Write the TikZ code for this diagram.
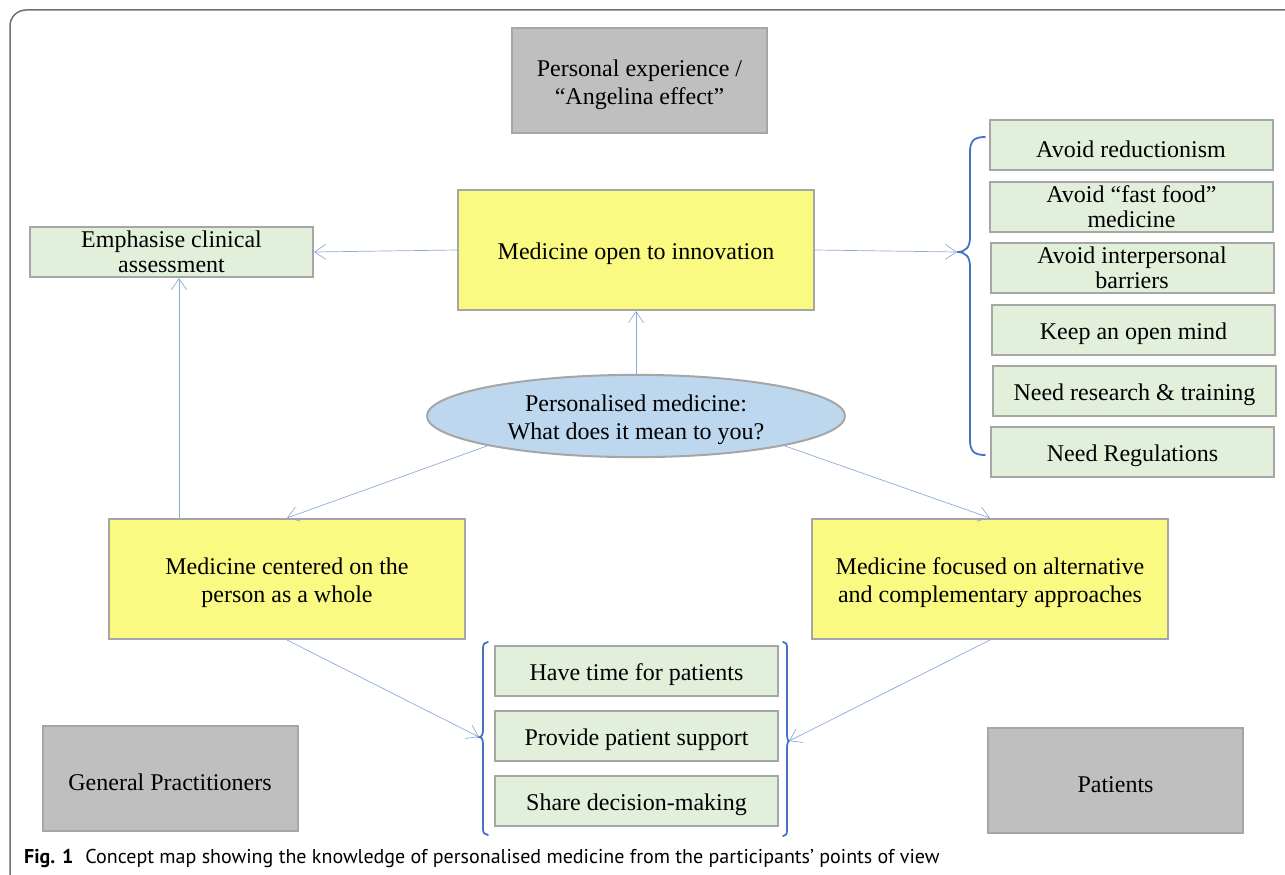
\documentclass[tikz,border=0pt]{standalone}
\usepackage{fontspec}
\setmainfont{Liberation Serif}
\newfontfamily\capfont{PT Sans}
\usetikzlibrary{arrows.meta,shapes.geometric}
\definecolor{boxyellow}{HTML}{FAFA82}
\definecolor{boxgreen}{HTML}{E2EFDA}
\definecolor{boxgray}{HTML}{BFBFBF}
\definecolor{edgegray}{HTML}{A6A6A6}
\definecolor{ellblue}{HTML}{BDD7EE}
\definecolor{arrowblue}{HTML}{8FAADC}
\definecolor{bracecol}{HTML}{4472C4}
\definecolor{framecol}{HTML}{707070}
\newcommand\tup{\vrule height 25pt depth 0pt width 0pt}
\begin{document}
\begin{tikzpicture}[x=1pt,y=-1pt,
  box/.style={draw=edgegray, line width=2pt, align=center, inner sep=0pt,
    font=\fontsize{24}{28}\selectfont},
  ybox/.style={box, fill=boxyellow, minimum width=356pt, minimum height=120pt},
  gbox/.style={box, fill=boxgreen, minimum width=283pt, minimum height=50pt},
  gboxtwo/.style={gbox, font=\fontsize{24}{25}\selectfont},
  graybox/.style={box, fill=boxgray, minimum width=255pt, minimum height=105pt},
  conn/.style={draw=arrowblue, line width=0.7pt, -{Straight Barb[length=11pt,width=15pt]}},
  bracestyle/.style={draw=bracecol, line width=1.8pt, line cap=round}]
\useasboundingbox (0,0) rectangle (1285,875);
\draw[framecol, line width=1.5pt, rounded corners=16pt] (1300,10) -- (10,10) -- (10,890);

% top gray
\node[graybox] (exp) at (639.5,80.5) {\tup Personal experience /\\``Angelina effect''};
% main yellow boxes
\node[ybox] (inno) at (636,250) {\tup Medicine open to innovation};
\node[ybox] (cent) at (287,579) {\tup Medicine centered on the\\person as a whole};
\node[ybox] (focu) at (990,579) {\tup Medicine focused on alternative\\and complementary approaches};
% ellipse
\node[box, ellipse, fill=ellblue, minimum width=418pt, minimum height=82pt] (ell) at (636,416)
  {\tup Personalised medicine:\\What does it mean to you?};
% left green
\node[gboxtwo] (emph) at (171.5,252) {Emphasise clinical\\assessment};
% right column
\node[gbox] (r1) at (1131,145) {\tup Avoid reductionism};
\node[gboxtwo] (r2) at (1131.5,206.5) {Avoid ``fast food''\\medicine};
\node[gboxtwo] (r3) at (1132,267.5) {Avoid interpersonal\\barriers};
\node[gbox] (r4) at (1133.5,329.5) {\tup Keep an open mind};
\node[gbox] (r5) at (1134.5,391) {\tup Need research \& training};
\node[gbox] (r6) at (1132.5,452) {\tup Need Regulations};
% bottom middle
\node[gbox] (b1) at (636.5,671) {\tup Have time for patients};
\node[gbox] (b2) at (636.5,736) {\tup Provide patient support};
\node[gbox] (b3) at (636.5,800.5) {\tup Share decision-making};
% bottom gray
\node[graybox] (gp) at (170,778.5) {\tup General Practitioners};
\node[graybox] (pat) at (1115.5,780.5) {\tup Patients};

% braces
\coordinate (rtip) at (957,252);
\coordinate (ltip) at (479,737);
\coordinate (mtip) at (789,741);
\draw[bracestyle] (985,137) .. controls (974,137) and (970,141) .. (970,152)
  -- (970,237) .. controls (970,247) and (966,252) .. (rtip)
  .. controls (966,252) and (970,257) .. (970,267)
  -- (970,440) .. controls (970,451) and (974,455) .. (985,455);
\draw[bracestyle] (488,642) .. controls (485,642) and (483,644) .. (483,648)
  -- (483,730) .. controls (483,734) and (482,737) .. (ltip)
  .. controls (482,737) and (483,740) .. (483,744)
  -- (483,829) .. controls (483,833) and (485,835) .. (488,835);
\draw[bracestyle] (783,642) .. controls (786,642) and (787,644) .. (787,648)
  -- (787,734) .. controls (787,738) and (788,741) .. (mtip)
  .. controls (788,741) and (787,744) .. (787,748)
  -- (787,830) .. controls (787,834) and (786,836) .. (783,836);

% connectors
\draw[conn] (inno.west) -- (emph.east);
\draw[conn] (inno.east) -- (rtip);
\draw[conn] (ell.north) -- (inno.south);
\draw[conn] ([xshift=71pt]cent.north west) -- ([xshift=71pt]cent.north west |- emph.south);
\draw[conn] (ell.south west) -- (cent.north);
\draw[conn] (ell.south east) -- (focu.north);
\draw[conn] (cent.south) -- (ltip);
\draw[conn] (focu.south) -- (mtip);

% caption
\node[anchor=west, inner sep=0pt, font=\capfont\fontsize{20}{24}\selectfont] (cap) at (24,858)
  {\textbf{Fig. 1}\hspace{0.6em}Concept map showing the knowledge of personalised medicine from the participants’ points of view};
\end{tikzpicture}
\end{document}
